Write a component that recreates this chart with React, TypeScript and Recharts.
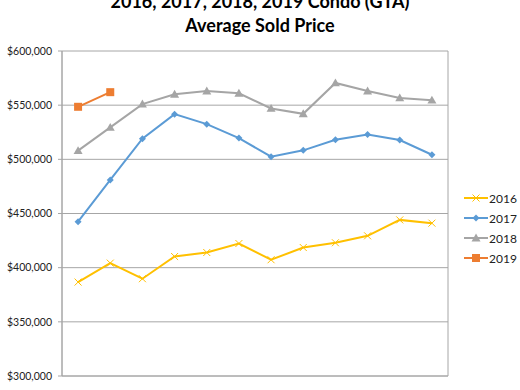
import React from "react";
import {
  LineChart,
  Line,
  CartesianGrid,
  XAxis,
  YAxis,
} from "recharts";

// months on the x axis (labels are cut off at the bottom of the picture)
const months = ["Jan", "Feb", "Mar", "Apr", "May", "Jun", "Jul", "Aug", "Sep", "Oct", "Nov", "Dec"];

const y2016 = [386700, 404200, 389800, 410300, 414000, 422300, 407300, 418600, 423000, 429400, 444100, 441100];
const y2017 = [442500, 481000, 519000, 541700, 532500, 519600, 502400, 508300, 518000, 523000, 517800, 504200];
const y2018 = [508000, 529500, 551000, 560000, 563000, 561000, 547000, 542000, 570500, 563000, 556700, 554600];
const y2019 = [548500, 562000];

const yTicks = [300000, 350000, 400000, 450000, 500000, 550000, 600000];
const xTicks = [0, 1, 2, 3, 4, 5, 6, 7, 8, 9, 10, 11, 12];

const colors = {
  y2016: "#FFC000",
  y2017: "#5B9BD5",
  y2018: "#A5A5A5",
  y2019: "#ED7D31",
};

const data = months.map((m, i) => ({
  month: m,
  x: i + 0.5,
  y2016: y2016[i],
  y2017: y2017[i],
  y2018: y2018[i],
  y2019: i < y2019.length ? y2019[i] : null,
}));

const font = "Lato, 'Open Sans', sans-serif";

// recharts hands dots the line colour as `stroke` (fill is white by default)
function CrossDot({ cx, cy, stroke }: any) {
  if (cx == null || cy == null) return null;
  const s = 3.5;
  return (
    <path
      d={`M${cx - s},${cy - s}L${cx + s},${cy + s}M${cx - s},${cy + s}L${cx + s},${cy - s}`}
      stroke={stroke}
      strokeWidth={1}
      fill="none"
    />
  );
}

function DiamondDot({ cx, cy, stroke }: any) {
  if (cx == null || cy == null) return null;
  const s = 3.5;
  return <path d={`M${cx},${cy - s}L${cx + s},${cy}L${cx},${cy + s}L${cx - s},${cy}Z`} fill={stroke} />;
}

function TriangleDot({ cx, cy, stroke }: any) {
  if (cx == null || cy == null) return null;
  const s = 4.5;
  return <path d={`M${cx},${cy - s}L${cx + s},${cy + s * 0.75}L${cx - s},${cy + s * 0.75}Z`} fill={stroke} />;
}

function SquareDot({ cx, cy, stroke }: any) {
  if (cx == null || cy == null) return null;
  const s = 4;
  return <rect x={cx - s} y={cy - s} width={s * 2} height={s * 2} fill={stroke} />;
}

function LegendMark({ kind, color }: { kind: string; color: string }) {
  return (
    <svg width={24} height={10} style={{ display: "block" }}>
      <line x1={0} y1={5} x2={24} y2={5} stroke={color} strokeWidth={2} />
      {kind === "x" && <CrossDot cx={12} cy={5} stroke={color} />}
      {kind === "d" && <DiamondDot cx={12} cy={5} stroke={color} />}
      {kind === "t" && <TriangleDot cx={12} cy={5} stroke={color} />}
      {kind === "s" && <SquareDot cx={12} cy={5} stroke={color} />}
    </svg>
  );
}

const legendItems = [
  { name: "2016", kind: "x", color: colors.y2016 },
  { name: "2017", kind: "d", color: colors.y2017 },
  { name: "2018", kind: "t", color: colors.y2018 },
  { name: "2019", kind: "s", color: colors.y2019 },
];

export default function App() {
  return (
    <div
      style={{
        position: "absolute",
        left: 0,
        top: 0,
        width: 520,
        height: 390,
        overflow: "hidden",
        background: "#fff",
        fontFamily: font,
      }}
    >
      <div
        style={{
          position: "absolute",
          left: 0,
          width: 520,
          top: -11,
          textAlign: "center",
          fontWeight: 700,
          fontSize: 18,
          lineHeight: "24px",
          color: "#000",
        }}
      >
        <div>2016, 2017, 2018, 2019 Condo (GTA)</div>
        <div>Average Sold Price</div>
      </div>

      <div style={{ position: "absolute", left: 0, top: 0 }}>
        <LineChart width={520} height={390} data={data} margin={{ top: 51, right: 72, bottom: 10, left: 0 }}>
          <CartesianGrid stroke="#A6A6A6" strokeWidth={1} />
          <XAxis
            type="number"
            dataKey="x"
            domain={[0, 12]}
            ticks={xTicks}
            tick={false}
            tickSize={4}
            height={4}
            axisLine={{ stroke: "#A6A6A6" }}
            tickLine={{ stroke: "#A6A6A6" }}
          />
          <YAxis
            domain={[300000, 600000]}
            ticks={yTicks}
            width={62}
            tickSize={4}
            tickMargin={6}
            axisLine={{ stroke: "#A6A6A6" }}
            tickLine={{ stroke: "#A6A6A6" }}
            tick={{ fill: "#222", fontSize: 10.5, fontFamily: font }}
            tickFormatter={(v: number) => "$" + v.toLocaleString("en-US")}
          />
          <Line
            dataKey="y2016"
            stroke={colors.y2016}
            strokeWidth={2}
            dot={<CrossDot />}
            isAnimationActive={false}
          />
          <Line
            dataKey="y2017"
            stroke={colors.y2017}
            strokeWidth={2}
            dot={<DiamondDot />}
            isAnimationActive={false}
          />
          <Line
            dataKey="y2018"
            stroke={colors.y2018}
            strokeWidth={2}
            dot={<TriangleDot />}
            isAnimationActive={false}
          />
          <Line
            dataKey="y2019"
            stroke={colors.y2019}
            strokeWidth={2}
            dot={<SquareDot />}
            isAnimationActive={false}
          />
        </LineChart>
      </div>

      <div style={{ position: "absolute", left: 464, top: 188 }}>
        {legendItems.map((it) => (
          <div
            key={it.name}
            style={{ display: "flex", alignItems: "center", height: 20, fontSize: 12, color: "#222" }}
          >
            <LegendMark kind={it.kind} color={it.color} />
            <span style={{ marginLeft: 1 }}>{it.name}</span>
          </div>
        ))}
      </div>
    </div>
  );
}
